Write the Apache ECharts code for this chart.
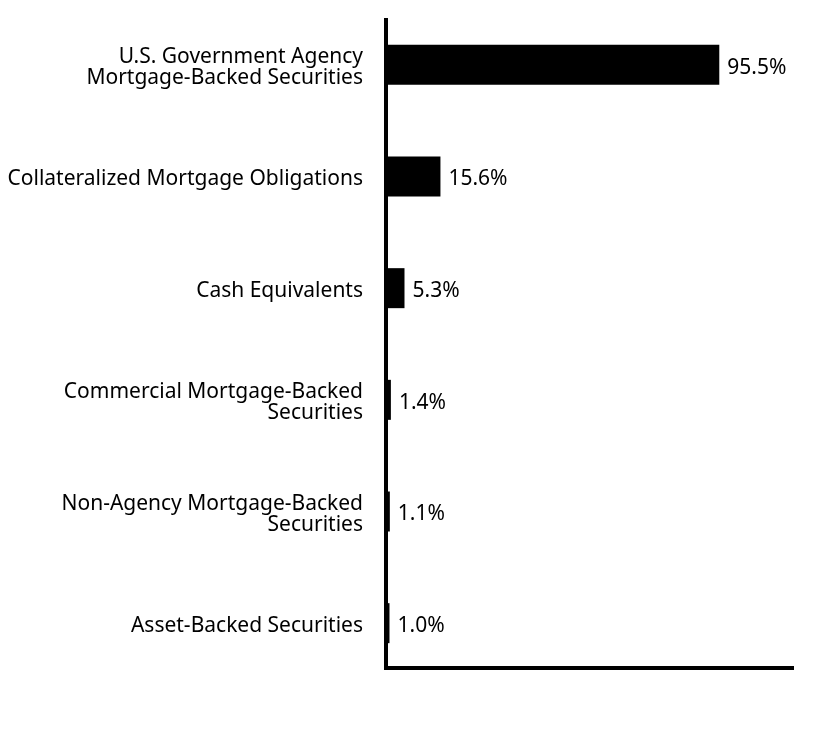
<!DOCTYPE html>
<html>
<head>
<meta charset="utf-8">
<script src="https://cdn.jsdelivr.net/npm/echarts@6/dist/echarts.min.js"></script>
<style>
  html, body { margin: 0; padding: 0; background: #fff; }
  #chart { width: 828px; height: 732px; }
</style>
</head>
<body>
<div id="chart"></div>
<script>
var categories = [
    'U.S. Government Agency\nMortgage-Backed Securities',
    'Collateralized Mortgage Obligations',
    'Cash Equivalents',
    'Commercial Mortgage-Backed\nSecurities',
    'Non-Agency Mortgage-Backed\nSecurities',
    'Asset-Backed Securities'
];
var values = [95.5, 15.6, 5.3, 1.4, 1.1, 1.0];

var fontFamily = '"Noto Sans", sans-serif';

function hiddenValueAxis(idx) {
    return {
        gridIndex: idx,
        type: 'value',
        min: 0,
        max: 100,
        axisLine: {show: false},
        axisTick: {show: false},
        axisLabel: {show: false},
        splitLine: {show: false}
    };
}

function frameAxis(idx) {
    return {
        gridIndex: idx,
        type: 'value',
        min: 0,
        max: 1,
        axisLine: {show: true, lineStyle: {color: '#000', width: 4, cap: 'square'}},
        axisTick: {show: false},
        axisLabel: {show: false},
        splitLine: {show: false}
    };
}

var chart = echarts.init(document.getElementById('chart'));

var option = {
    backgroundColor: '#fff',
    animation: false,
    grid: [
        // bars
        {left: 386, right: 93, top: 9, bottom: 53},
        // axis frame
        {left: 386, right: 36, top: 20, bottom: 64},
        // category labels (nudged down a little to sit like the original)
        {left: 386, right: 93, top: 12, bottom: 50}
    ],
    xAxis: [hiddenValueAxis(0), frameAxis(1), hiddenValueAxis(2)],
    yAxis: [{
        gridIndex: 0,
        type: 'category',
        inverse: true,
        data: categories,
        axisLine: {show: false},
        axisTick: {show: false},
        axisLabel: {show: false}
    }, frameAxis(1), {
        gridIndex: 2,
        type: 'category',
        inverse: true,
        data: categories,
        axisLine: {show: false},
        axisTick: {show: false},
        axisLabel: {
            margin: 23,
            color: '#000',
            fontSize: 21,
            fontFamily: fontFamily,
            lineHeight: 21,
            align: 'right'
        }
    }],
    series: [{
        type: 'bar',
        xAxisIndex: 0,
        yAxisIndex: 0,
        data: values,
        barWidth: 40,
        itemStyle: {color: '#000'},
        label: {
            show: true,
            position: 'right',
            distance: 8,
            offset: [0, 3],
            color: '#000',
            fontSize: 21,
            fontFamily: fontFamily,
            formatter: function (p) {
                return p.value.toFixed(1) + '%';
            }
        },
        z: 1
    }]
};

chart.setOption(option);
</script>
</body>
</html>
